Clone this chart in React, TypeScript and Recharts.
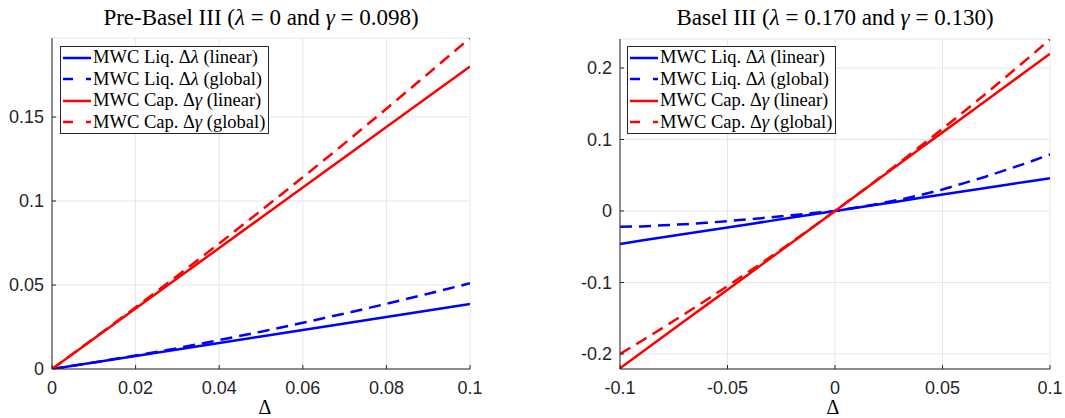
import React from "react";
import { LineChart, Line, XAxis, YAxis, CartesianGrid } from "recharts";

// Pre-Basel III panel
const preX = [0, 0.01, 0.02, 0.03, 0.04, 0.05, 0.06, 0.07, 0.08, 0.09, 0.1];
const preLiqLinear = [0, 0.0039, 0.0077, 0.0116, 0.0155, 0.0194, 0.0232, 0.0271, 0.031, 0.0348, 0.0387];
const preLiqGlobal = [0, 0.0039, 0.008, 0.0124, 0.0172, 0.0222, 0.0275, 0.033, 0.0388, 0.0448, 0.051];
const preCapLinear = [0, 0.018, 0.036, 0.054, 0.072, 0.09, 0.108, 0.126, 0.144, 0.162, 0.18];
const preCapGlobal = [0, 0.0182, 0.0367, 0.0555, 0.0747, 0.0943, 0.1141, 0.1343, 0.1549, 0.1758, 0.197];
const preXTicks = [0, 0.02, 0.04, 0.06, 0.08, 0.1];
const preYTicks = [0, 0.05, 0.1, 0.15];

// Basel III panel
const b3X = [-0.1, -0.09, -0.08, -0.07, -0.06, -0.05, -0.04, -0.03, -0.02, -0.01, 0, 0.01, 0.02, 0.03, 0.04, 0.05, 0.06, 0.07, 0.08, 0.09, 0.1];
const b3LiqLinear = [-0.046, -0.0414, -0.0368, -0.0322, -0.0276, -0.023, -0.0184, -0.0138, -0.0092, -0.0046, 0, 0.0046, 0.0092, 0.0138, 0.0184, 0.023, 0.0276, 0.0322, 0.0368, 0.0414, 0.046];
const b3LiqGlobal = [-0.022, -0.0215, -0.02, -0.0185, -0.0165, -0.0142, -0.0116, -0.0088, -0.0059, -0.0029, 0, 0.0048, 0.01, 0.0158, 0.0225, 0.03, 0.039, 0.048, 0.058, 0.068, 0.079];
const b3CapLinear = [-0.22, -0.198, -0.176, -0.154, -0.132, -0.11, -0.088, -0.066, -0.044, -0.022, 0, 0.022, 0.044, 0.066, 0.088, 0.11, 0.132, 0.154, 0.176, 0.198, 0.22];
const b3CapGlobal = [-0.2, -0.1818, -0.1632, -0.1442, -0.1248, -0.105, -0.0848, -0.0642, -0.0432, -0.0218, 0, 0.0222, 0.0448, 0.0678, 0.0912, 0.115, 0.1392, 0.1638, 0.1888, 0.2142, 0.24];
const b3XTicks = [-0.1, -0.05, 0, 0.05, 0.1];
const b3YTicks = [-0.2, -0.1, 0, 0.1, 0.2];

const preData = preX.map((x, i) => ({
  x,
  liqLin: preLiqLinear[i],
  liqGlob: preLiqGlobal[i],
  capLin: preCapLinear[i],
  capGlob: preCapGlobal[i],
}));

const b3Data = b3X.map((x, i) => ({
  x,
  liqLin: b3LiqLinear[i],
  liqGlob: b3LiqGlobal[i],
  capLin: b3CapLinear[i],
  capGlob: b3CapGlobal[i],
}));

const AXIS = "#262626";
const SANS = "'Liberation Sans', Arial, sans-serif";
const SERIF = "'Liberation Serif', 'Times New Roman', serif";
const DASH = "12 7";

const legendItems = [
  { color: "#0000ff", dashed: false, name: "MWC Liq. ", sym: "λ", kind: "(linear)" },
  { color: "#0000ff", dashed: true, name: "MWC Liq. ", sym: "λ", kind: "(global)" },
  { color: "#ff0000", dashed: false, name: "MWC Cap. ", sym: "γ", kind: "(linear)" },
  { color: "#ff0000", dashed: true, name: "MWC Cap. ", sym: "γ", kind: "(global)" },
];

function LegendBox({ left, top }: { left: number; top: number }) {
  return (
    <div
      style={{
        position: "absolute",
        left,
        top,
        background: "#fff",
        border: "1px solid #262626",
        padding: "0px 3px 0px 1px",
        fontFamily: SERIF,
        fontSize: 18.5,
        color: "#000",
        lineHeight: "21.5px",
      }}
    >
      {legendItems.map((it, i) => (
        <div key={i} style={{ display: "flex", alignItems: "center", whiteSpace: "nowrap" }}>
          <svg width={30} height={10} style={{ marginRight: 1 }}>
            <line
              x1={1}
              y1={5}
              x2={29}
              y2={5}
              stroke={it.color}
              strokeWidth={2.5}
              strokeDasharray={it.dashed ? "10 13" : undefined}
            />
          </svg>
          <span>
            {it.name}Δ<i>{it.sym}</i> {it.kind}
          </span>
        </div>
      ))}
    </div>
  );
}

function Panel({
  data,
  xDomain,
  xTicks,
  yDomain,
  yTicks,
  width,
  rightMargin,
  yAxisWidth,
  top,
}: {
  data: any[];
  xDomain: [number, number];
  xTicks: number[];
  yDomain: [number, number];
  yTicks: number[];
  width: number;
  rightMargin: number;
  yAxisWidth: number;
  top: number;
}) {
  const tickStyle = { fill: AXIS, fontSize: 18, fontFamily: SANS };
  return (
    <LineChart width={width} height={418} data={data} margin={{ top, right: rightMargin, bottom: 0, left: 0 }}>
      <CartesianGrid stroke="#e6e6e6" strokeWidth={1} />
      <XAxis
        dataKey="x"
        type="number"
        domain={xDomain}
        ticks={xTicks}
        allowDataOverflow
        height={49}
        stroke={AXIS}
        tick={tickStyle}
        tickSize={-4}
        tickMargin={16}
        interval={0}
      />
      <YAxis
        type="number"
        domain={yDomain}
        ticks={yTicks}
        allowDataOverflow
        width={yAxisWidth}
        stroke={AXIS}
        tick={tickStyle}
        tickSize={-4}
        tickMargin={12}
        interval={0}
      />
      <Line dataKey="liqLin" stroke="#0000ff" strokeWidth={2.5} dot={false} isAnimationActive={false} type="linear" />
      <Line dataKey="liqGlob" stroke="#0000ff" strokeWidth={2.5} strokeDasharray={DASH} dot={false} isAnimationActive={false} type="linear" />
      <Line dataKey="capLin" stroke="#ff0000" strokeWidth={2.5} dot={false} isAnimationActive={false} type="linear" />
      <Line dataKey="capGlob" stroke="#ff0000" strokeWidth={2.5} strokeDasharray={DASH} dot={false} isAnimationActive={false} type="linear" />
    </LineChart>
  );
}

const titleStyle: React.CSSProperties = {
  position: "absolute",
  top: 5,
  fontFamily: SERIF,
  fontSize: 23,
  color: "#000",
  whiteSpace: "nowrap",
  transform: "translateX(-50%)",
};

const deltaStyle: React.CSSProperties = {
  position: "absolute",
  top: 399,
  fontFamily: SERIF,
  fontSize: 20,
  lineHeight: "16px",
  color: "#000",
  transform: "translateX(-50%)",
};

export default function App() {
  return (
    <div style={{ position: "absolute", left: 0, top: 0, width: 1065, height: 418, background: "#fff", overflow: "hidden" }}>
      <div style={{ position: "absolute", left: 0, top: 0 }}>
        <Panel data={preData} xDomain={[0, 0.1]} xTicks={preXTicks} yDomain={[0, 0.197]} yTicks={preYTicks} width={500} rightMargin={30} yAxisWidth={52} top={38} />
      </div>
      <div style={{ position: "absolute", left: 560, top: 0 }}>
        <Panel data={b3Data} xDomain={[-0.1, 0.1]} xTicks={b3XTicks} yDomain={[-0.221, 0.2406]} yTicks={b3YTicks} width={505} rightMargin={15} yAxisWidth={60} top={39} />
      </div>
      <div style={{ ...titleStyle, left: 261 }}>
        Pre-Basel III (<i>λ</i> = 0 and <i>γ</i> = 0.098)
      </div>
      <div style={{ ...titleStyle, left: 835 }}>
        Basel III (<i>λ</i> = 0.170 and <i>γ</i> = 0.130)
      </div>
      <div style={{ ...deltaStyle, left: 265 }}>Δ</div>
      <div style={{ ...deltaStyle, left: 833 }}>Δ</div>
      <LegendBox left={60} top={46} />
      <LegendBox left={627} top={46} />
    </div>
  );
}
